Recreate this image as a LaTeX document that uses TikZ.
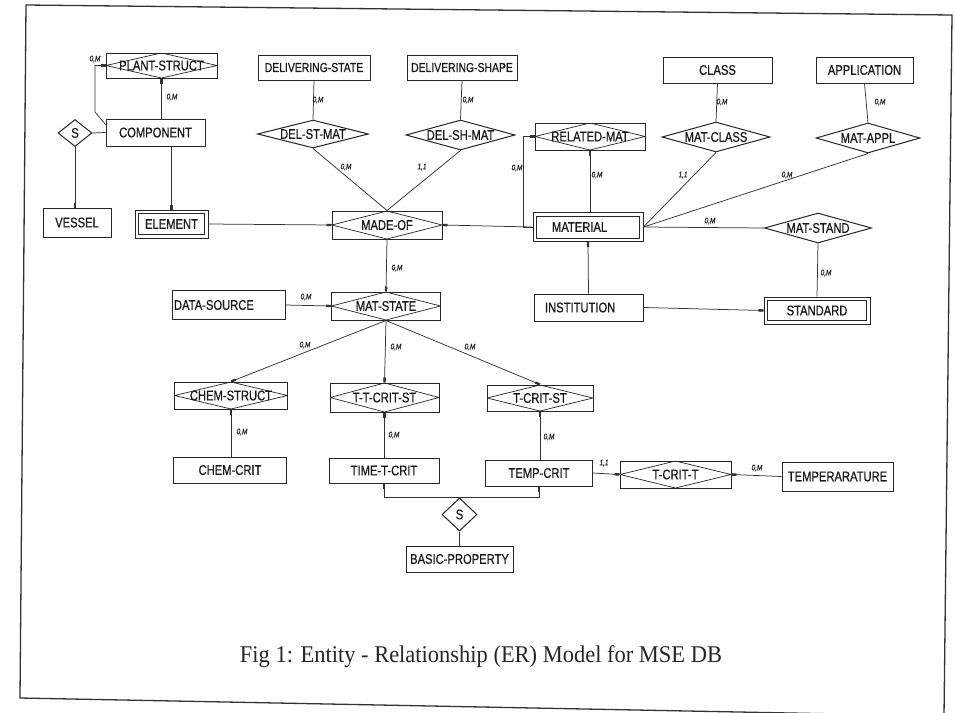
\documentclass[tikz,border=0pt]{standalone}
\usepackage{fontspec}
\usepackage{graphicx}
\setmainfont{Liberation Sans}
\newfontfamily\ersans[FakeStretch=0.8,FakeBold=0.6]{Liberation Sans}
\newfontfamily\capserif{Liberation Serif}
\usetikzlibrary{shapes.geometric,arrows.meta}
\begin{document}
\begin{tikzpicture}[x=1pt,y=-1pt,
  sz/.style 2 args={minimum width=#1pt, minimum height=#2pt},
  ent/.style={rectangle, draw=black!85, line width=1pt, inner sep=0pt,
    font=\ersans\fontsize{14}{14}\selectfont, text=black!90},
  rdbox/.style={ent, path picture={\draw[line width=0.7pt, black!85]
    (path picture bounding box.west) -- (path picture bounding box.north) --
    (path picture bounding box.east) -- (path picture bounding box.south) -- cycle;}},
  dbl/.style={ent, path picture={\draw[line width=0.8pt, black!85]
    ([shift={(3.5pt,-3.5pt)}]path picture bounding box.north west) rectangle
    ([shift={(-3.5pt,3.5pt)}]path picture bounding box.south east);}},
  rel/.style={diamond, draw=black!85, line width=1pt, inner sep=0pt,
    font=\ersans\fontsize{14}{14}\selectfont, text=black!90},
  lab/.style={inner sep=0pt, font=\ersans\itshape\fontsize{8}{8}\selectfont, text=black!85},
  cn/.style={draw=black!80, line width=0.75pt},
  tk/.style={cn, -{Rectangle[length=5pt,width=2.4pt]}}
]
\useasboundingbox (0,0) rectangle (955,712);
\fill[white] (0,0) rectangle (955,712);
\draw[line width=1.3pt, black!80] (26,5) -- (952,15) -- (944,716) -- (20,698) -- cycle;

% entities and relationships
\node[rdbox, sz={111}{25}] (ps) at (161.5,65.5) {PLANT-STRUCT};
\node[ent, sz={99}{27}] (comp) at (155.5,132.5) {COMPONENT};
\node[rel, sz={34}{27}] (s1) at (75,133) {S};
\node[ent, sz={68}{29}] (ves) at (77,222.5) {VESSEL};
\node[dbl, sz={73}{28}] (el) at (171.5,224) {ELEMENT};
\node[ent, sz={112}{25}] (ds) at (314,67.5) {\fontsize{13}{13}\selectfont DELIVERING-STATE};
\node[ent, sz={110}{25}] (dsh) at (462,67.5) {\fontsize{13}{13}\selectfont DELIVERING-SHAPE};
\node[rel, sz={111}{28}] (dsm) at (313,134) {\makebox[0pt]{DEL-ST-MAT}};
\node[rel, sz={109}{30}] (dshm) at (460.5,135) {\makebox[0pt]{DEL-SH-MAT}};
\node[rdbox, sz={110}{28}] (mo) at (387,225) {MADE-OF};
\node[rdbox, sz={110}{27}] (rm) at (590,136.5) {RELATED-MAT};
\node[ent, sz={109}{26}] (cl) at (717.5,70) {CLASS};
\node[ent, sz={97}{26}] (app) at (864.5,70) {APPLICATION};
\node[rel, sz={108}{30}] (mc) at (716,137) {\makebox[0pt]{MAT-CLASS}};
\node[rel, sz={104}{30}] (ma) at (868,138) {\makebox[0pt]{MAT-APPL}};
\node[dbl, sz={110}{29}] (mat) at (588,227) {\makebox[72pt][l]{MATERIAL}};
\node[rel, sz={107}{30}] (mst) at (818,228) {\makebox[0pt]{MAT-STAND}};
\node[ent, sz={113}{29}] (dsrc) at (228.5,305) {\makebox[109pt][l]{DATA-SOURCE}};
\node[rdbox, sz={109}{28}] (ms) at (386,306) {MAT-STATE};
\node[ent, sz={109}{27}] (inst) at (588.5,307.5) {\makebox[87pt][l]{INSTITUTION}};
\node[dbl, sz={106}{27}] (std) at (817,310.5) {STANDARD};
\node[rdbox, sz={113}{27}] (cs) at (231,395.5) {CHEM-STRUCT};
\node[rdbox, sz={109}{29}] (tts) at (384.5,397.5) {T-T-CRIT-ST};
\node[rdbox, sz={106}{26}] (tcs) at (540,398) {T-CRIT-ST};
\node[ent, sz={113}{26}] (cc) at (230,470) {CHEM-CRIT};
\node[ent, sz={110}{25}] (ttc) at (384,470.5) {TIME-T-CRIT};
\node[ent, sz={107}{26}] (tc) at (539,473) {TEMP-CRIT};
\node[rdbox, sz={111}{27}] (tct) at (675.5,474.5) {T-CRIT-T};
\node[ent, sz={111}{29}] (temp) at (837.5,476.5) {TEMPERARATURE};
\node[rel, sz={35}{33}] (s2) at (459.5,514.5) {S};
\node[ent, sz={107}{26}] (bp) at (459.5,559) {BASIC-PROPERTY};

% connectors
\draw[tk] ([yshift=-6pt]comp.north west) -- (95,112) -- (95,65.5) -- (ps.west);
\draw[tk] (ps.south |- comp.north) -- (ps.south);
\draw[cn] (s1.east) -- (comp.west);
\draw[tk] (s1.south) -- (s1.south |- ves.north);
\draw[tk] (el.north |- comp.south) -- (el.north);
\draw[tk] (el.east) -- (mo.west);
\draw[tk] (mat.west) -- (mo.east);
\draw[cn] (ds.south) -- (dsm.north);
\draw[cn] (dsh.south) -- (dshm.north);
\draw[cn] (dsm.south) -- (mo.north);
\draw[cn] (dshm.south) -- (mo.north);
\draw[tk] (mo.south) -- (ms.north);
\draw[tk] (dsrc.east) -- (ms.west);
\draw[tk] (ms.south) -- (cs.north);
\draw[tk] (ms.south) -- (tts.north);
\draw[tk] (ms.south) -- (tcs.north);
\draw[tk] (cs.south |- cc.north) -- (cs.south);
\draw[tk] (tts.south |- ttc.north) -- (tts.south);
\draw[tk] (tcs.south |- tc.north) -- (tcs.south);
\draw[tk] (s2.north) -| (ttc.south);
\draw[tk] (s2.north) -| (tc.south);
\draw[cn] (s2.south) -- (bp.north);
\draw[tk] (tc.east) -- (tct.west);
\draw[tk] (temp.west) -- (tct.east);
\draw[tk] (rm.south |- mat.north) -- (rm.south);
\coordinate (lp) at (523,0);
\draw[tk] (mat.west) -| (lp |- rm.west) -- (rm.west);
\draw[cn] (cl.south) -- (mc.north);
\draw[cn] (app.south) -- (ma.north);
\draw[cn] (mc.south) -- (mat.east);
\draw[cn] (ma.south) -- (mat.east);
\draw[cn] (mat.east) -- (mst.west);
\draw[cn] (mst.south) -- (std.north);
\draw[tk] (inst.north) -- (mat.south);
\draw[tk] (inst.east) -- (std.west);

% cardinality labels
\node[lab] (l1) at (95,59) {0,M};
\node[lab] (l2) at (172,97) {0,M};
\node[lab] (l3) at (318,100) {0,M};
\node[lab] (l4) at (468,100) {0,M};
\node[lab] (l5) at (346,167) {0,M};
\node[lab] (l6) at (422,167) {1,1};
\node[lab] (l7) at (517,168) {0,M};
\node[lab] (l8) at (597,175) {0,M};
\node[lab] (l9) at (722,102) {0,M};
\node[lab] (l10) at (880,102) {0,M};
\node[lab] (l11) at (683,175) {1,1};
\node[lab] (l12) at (787,175) {0,M};
\node[lab] (l13) at (710,221) {0,M};
\node[lab] (l14) at (826,273) {0,M};
\node[lab] (l15) at (397,268) {0,M};
\node[lab] (l16) at (306,297) {0,M};
\node[lab] (l17) at (305,345) {0,M};
\node[lab] (l18) at (396,347) {0,M};
\node[lab] (l19) at (470,347) {0,M};
\node[lab] (l20) at (242,432) {0,M};
\node[lab] (l21) at (394,435) {0,M};
\node[lab] (l22) at (549,437) {0,M};
\node[lab] (l23) at (604,463) {1,1};
\node[lab] (l24) at (757,468) {0,M};

% caption
\node[inner sep=0pt, font=\capserif\fontsize{24}{24}\selectfont, text=black!85] (cap) at (481,657)
  {\resizebox{482pt}{\height}{Fig 1: Entity - Relationship (ER) Model for MSE DB}};
\end{tikzpicture}
\end{document}
